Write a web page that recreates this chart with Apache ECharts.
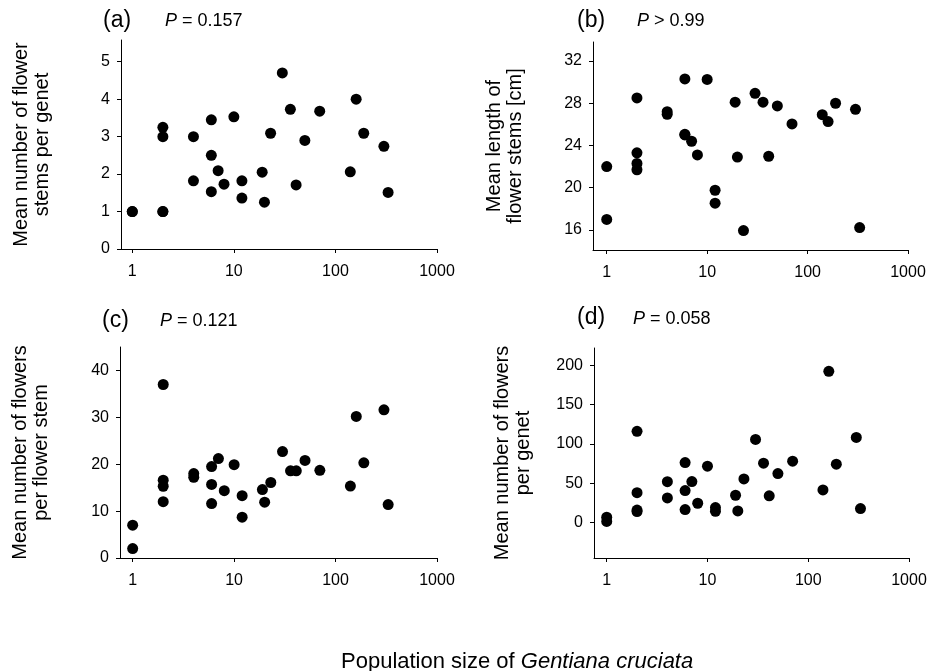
<!DOCTYPE html>
<html><head><meta charset="utf-8">
<script src="https://cdn.jsdelivr.net/npm/echarts@6/dist/echarts.min.js"></script>
<style>html,body{margin:0;padding:0;background:#fff}#c{width:934px;height:671px}</style>
</head><body><div id="c"></div>
<script>
// Population size (x, shared by all panels)
const popSize = [1,1,2,2,2,2,4,4,6,6,6,7,8,10,12,12,19,20,23,30,36,41,50,70,140,160,190,300,330];
// (a) Mean number of flower stems per genet
const stemsPerGenet = [1.0,1.0,3.25,3.0,1.0,1.0,3.0,1.82,3.45,2.5,1.53,2.09,1.73,3.53,1.82,1.36,2.05,1.25,3.09,4.7,3.73,1.71,2.9,3.68,2.06,4.0,3.09,2.74,1.51];
// (b) Mean length of flower stems [cm]
const stemLength = [22.0,17.0,28.5,23.3,22.3,21.7,27.2,26.95,30.3,25.06,25.0,24.4,23.1,30.26,19.76,18.53,28.1,22.9,15.94,28.94,28.1,22.98,27.74,26.04,26.92,26.26,28.0,27.42,16.22];
// (c) Mean number of flowers per flower stem
const flowersPerStem = [7.0,2.0,37.0,12.0,16.6,15.3,18.0,17.2,19.5,15.7,11.6,21.2,14.35,19.9,13.3,8.7,14.6,11.9,16.1,22.7,18.6,18.6,20.8,18.7,15.35,30.2,20.3,31.6,11.4];
// (d) Mean number of flowers per genet
const flowersPerGenet = [6.8,1.5,116,38,16,14,52,31.4,76.4,40.8,16.6,52.2,24.6,71.8,19.1,14.4,34.8,14.9,55.6,105.7,75.6,34,62.4,78.1,41.6,192.4,74.3,108.3,17.8];

// tick labels
const xTicks = [1,10,100,1000];
const yTicksA = [0,1,2,3,4,5];
const yTicksB = [16,20,24,28,32];
const yTicksC = [0,10,20,30,40];
const yTicksD = [0,50,100,150,200];

const panelLabels = ['(a)','(b)','(c)','(d)'];
const pTexts = ['{i|P} = 0.157','{i|P} > 0.99','{i|P} = 0.121','{i|P} = 0.058'];
const yNames = ['Mean number of flower\nstems per genet','Mean length of\nflower stems [cm]','Mean number of flowers\nper flower stem','Mean number of flowers\nper genet'];
const xTitle = 'Population size of {i|Gentiana cruciata}';

const FONT = '"Liberation Sans", Arial, Helvetica, sans-serif';
const ys = [stemsPerGenet, stemLength, flowersPerStem, flowersPerGenet];
const yTicks = [yTicksA, yTicksB, yTicksC, yTicksD];
const yRanges = [[0,5.58],[14.1,33.8],[0,45],[-45,222]];
const xMins = [0.774, 0.73, 0.75, 0.748];
const grids = [
  {left:121, top:40, width:316, height:209},
  {left:593, top:42, width:315, height:208},
  {left:120, top:347, width:317, height:211},
  {left:594, top:348, width:315, height:210}
];
const nameGaps = [68, 67, 68, 60];
const labelPos = [[103,9],[577,9],[102,309],[577,306]];
const pPos = [[165,12],[637,12],[160,312],[633,310]];

const axisLineStyle = {color:'#000', width:1};
const tickLabel = {color:'#000', fontSize:16, fontFamily:FONT};

const option = {
  animation:false,
  backgroundColor:'#fff',
  title: [],
  grid: grids,
  xAxis: [], yAxis: [], series: []
};
for (let i=0;i<4;i++){
  option.xAxis.push({
    type:'log', logBase:10, gridIndex:i, min:xMins[i], max:1000,
    splitLine:{show:false},
    axisLine:{show:true, onZero:false, lineStyle:axisLineStyle},
    axisTick:{show:true, length:4, customValues:xTicks, lineStyle:axisLineStyle},
    axisLabel:{...tickLabel, margin:15, customValues:xTicks, formatter:v=>String(Math.round(v))},
    minorTick:{show:false}
  });
  option.yAxis.push({
    type:'value', gridIndex:i, min:yRanges[i][0], max:yRanges[i][1],
    splitLine:{show:false},
    axisLine:{show:true, onZero:false, lineStyle:axisLineStyle},
    axisTick:{show:true, length:4, customValues:yTicks[i], lineStyle:axisLineStyle},
    axisLabel:{...tickLabel, margin:11, customValues:yTicks[i], formatter:v=>String(v)},
    name:yNames[i], nameLocation:'middle', nameGap:nameGaps[i],
    nameTextStyle:{color:'#000', fontSize:20, fontFamily:FONT, lineHeight:21, align:'center'}
  });
  option.series.push({
    type:'scatter', xAxisIndex:i, yAxisIndex:i, symbol:'circle', symbolSize:11,
    itemStyle:{color:'#000', opacity:1}, emphasis:{disabled:true},
    data: popSize.map((x,k)=>[x, ys[i][k]])
  });
  option.title.push({
    text:panelLabels[i], left:labelPos[i][0], top:labelPos[i][1], padding:0,
    textStyle:{color:'#000', fontSize:23, fontWeight:'normal', fontFamily:FONT}
  });
  option.title.push({
    text:pTexts[i], left:pPos[i][0], top:pPos[i][1], padding:0,
    textStyle:{color:'#000', fontSize:18, fontWeight:'normal', fontFamily:FONT,
      rich:{i:{fontStyle:'italic', fontSize:18, color:'#000', fontFamily:FONT}}}
  });
}
option.title.push({
  text:xTitle, left:341, top:651, padding:0,
  textStyle:{color:'#000', fontSize:22, fontWeight:'normal', fontFamily:FONT,
    rich:{i:{fontStyle:'italic', fontSize:22, color:'#000', fontFamily:FONT}}}
});
const chart = echarts.init(document.getElementById('c'), null, {renderer:'canvas'});
chart.setOption(option);
</script></body></html>
